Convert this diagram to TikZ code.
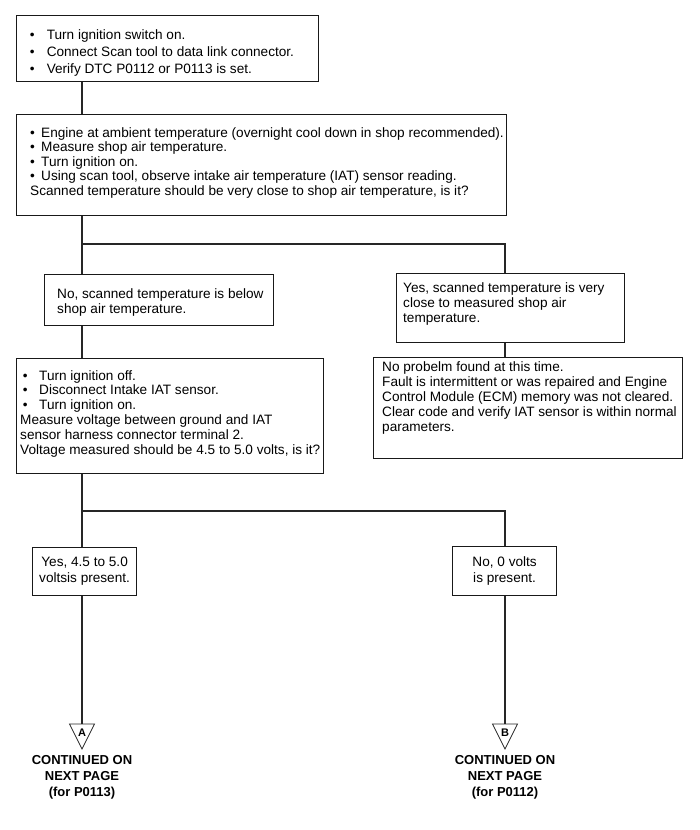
\documentclass[tikz,border=0pt]{standalone}
\usepackage{fontspec}
\setmainfont{Liberation Sans}
\tikzset{
  frame/.style={draw=black!90, line width=1.2pt, inner sep=0pt, anchor=north west},
  txt/.style={anchor=north west, inner sep=0pt, align=left},
  ctxt/.style={draw=black!90, line width=1.2pt, inner sep=0pt, anchor=north west, align=center,
     font=\fontsize{13.6}{16}\selectfont},
  link/.style={draw=black!85, line width=1.2pt},
  tri/.style={draw=black!85, line width=0.8pt, fill=white},
  tlabel/.style={inner sep=0pt, font=\bfseries\fontsize{11}{12}\selectfont},
  cont/.style={align=center, inner sep=0pt, font=\bfseries\fontsize{13}{16}\selectfont},
}
\newcommand\bulA[1]{\makebox[17pt][l]{\textbullet}#1}
\newcommand\bulB[1]{\makebox[11pt][l]{\textbullet}#1}
\newcommand\bulC[1]{\hspace*{2.6pt}\makebox[16.4pt][l]{\textbullet}#1}
\begin{document}
\begin{tikzpicture}[x=1pt,y=-1pt]
\useasboundingbox (0,0) rectangle (700,830);
\coordinate (L) at (82,0);
\coordinate (R) at (505,0);

% box 1
\node[frame, minimum width=302pt, minimum height=66pt] (b1) at (16,15) {};
\node[txt, font=\fontsize{13.6}{17}\selectfont] (t1) at (29.6,29) {%
\bulA{Turn ignition switch on.}\\
\bulA{Connect Scan tool to data link connector.}\\
\bulA{Verify DTC P0112 or P0113 is set.}};

% box 2
\node[frame, minimum width=490pt, minimum height=101pt] (b2) at (16,114) {};
\node[txt, font=\fontsize{13.6}{14.6}\selectfont] (t2) at (30,127) {%
\bulB{Engine at ambient temperature (overnight cool down in shop recommended).}\\
\bulB{Measure shop air temperature.}\\
\bulB{Turn ignition on.}\\
\bulB{Using scan tool, observe intake air temperature (IAT) sensor reading.}\\
Scanned temperature should be very close to shop air temperature, is it?};

% box 3
\node[frame, minimum width=229pt, minimum height=51pt] (b3) at (44,274) {};
\node[txt, font=\fontsize{13.6}{15}\selectfont] (t3) at (57,288) {%
No, scanned temperature is below\\
shop air temperature.};

% box 4
\node[frame, minimum width=228pt, minimum height=69pt] (b4) at (396,273) {};
\node[txt, font=\fontsize{13.6}{15}\selectfont] (t4) at (403,282) {%
Yes, scanned temperature is very\\
close to measured shop air\\
temperature.};

% box 5
\node[frame, minimum width=309pt, minimum height=101pt] (b5) at (373,357) {};
\node[txt, font=\fontsize{13.6}{15.2}\selectfont] (t5) at (382,361) {%
No probelm found at this time.\\
Fault is intermittent or was repaired and Engine\\
Control Module (ECM) memory was not cleared.\\
Clear code and verify IAT sensor is within normal\\
parameters.};

% box 6
\node[frame, minimum width=307pt, minimum height=115pt] (b6) at (16,358) {};
\node[txt, font=\fontsize{13.6}{14.8}\selectfont] (t6) at (20,370) {%
\bulC{Turn ignition off.}\\
\bulC{Disconnect Intake IAT sensor.}\\
\bulC{Turn ignition on.}\\
Measure voltage between ground and IAT\\
sensor harness connector terminal 2.\\
Voltage measured should be 4.5 to 5.0 volts, is it?};

% box 7, 8
\node[ctxt, minimum width=104pt, minimum height=48pt] (b7) at (32,547) {Yes, 4.5 to 5.0\\voltsis present.};
\node[ctxt, minimum width=104pt, minimum height=49pt] (b8) at (452,546) {No, 0 volts\\is present.};

% connectors
\coordinate (j1) at (82,244);
\coordinate (j1r) at (505,244);
\coordinate (j2) at (82,511);
\coordinate (j2r) at (505,511);
\coordinate (tAtop) at (82,724);
\coordinate (tBtop) at (505,724);

\draw[link] (b1.south -| L) -- (b2.north -| L);
\draw[link] (b2.south -| L) -- (j1) -- (j1r) -- (b4.north -| R);
\draw[link] (j1) -- (b3.north -| L);
\draw[link] (b3.south -| L) -- (b6.north -| L);
\draw[link] (b4.south -| R) -- (b5.north -| R);
\draw[link] (b6.south -| L) -- (j2) -- (j2r) -- (b8.north -| R);
\draw[link] (j2) -- (b7.north -| L);
\draw[link] (b7.south -| L) -- (tAtop);
\draw[link] (b8.south -| R) -- (tBtop);

% off-page connectors
\draw[tri] (69.5,724) -- (94.5,724) -- (82,749) -- cycle;
\draw[tri] (492.5,724) -- (517.5,724) -- (505,749) -- cycle;
\node[tlabel] (tA) at (82,733) {A};
\node[tlabel] (tB) at (505,733) {B};

\node[cont] (cA) at (82,777) {CONTINUED ON\\NEXT PAGE\\(for P0113)};
\node[cont] (cB) at (505,777) {CONTINUED ON\\NEXT PAGE\\(for P0112)};
\end{tikzpicture}
\end{document}
